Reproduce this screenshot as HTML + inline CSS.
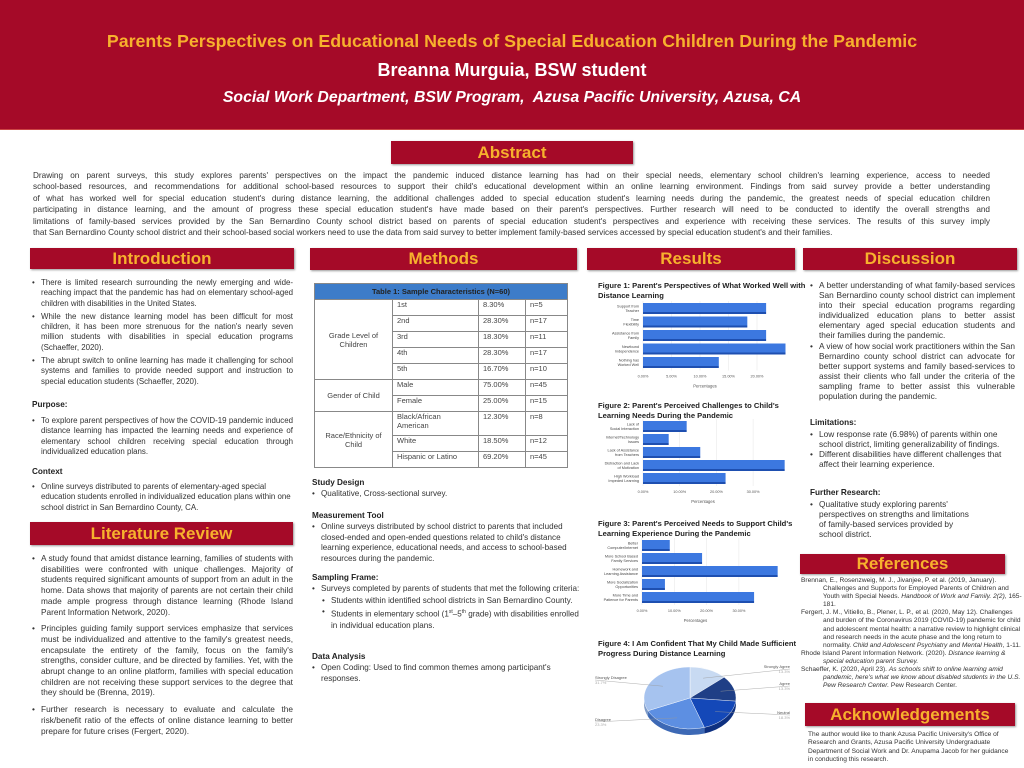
<!DOCTYPE html>
<html><head><meta charset="utf-8">
<style>
*{margin:0;padding:0;box-sizing:border-box}
body{width:1024px;height:768px;position:relative;background:#fff;font-family:"Liberation Sans",sans-serif;color:#222;overflow:hidden}
.abs{position:absolute}
.banner{position:absolute;background:#a50a28;color:#f7b12d;font-weight:bold;font-size:17px;text-align:center;box-shadow:1px 1px 2px #999}
.txt{position:absolute;font-size:7.9px;line-height:10.3px;text-align:justify;color:#333}
.txt ul{list-style:none}
.txt li{position:relative;padding-left:11px;margin-bottom:3px}
.txt li:before{content:"•";position:absolute;left:2px}
.h{font-weight:bold;font-size:8.2px;color:#222}
.m{font-size:8.1px;line-height:10.7px}
table{border-collapse:collapse;font-size:7.5px;color:#444}
td{border:1px solid #888;padding:0 4px;vertical-align:top}
.ln{display:block;text-align:justify;text-align-last:justify;white-space:nowrap}
</style></head><body>
<div class="abs" style="left:0;top:0;width:1024px;height:130px;background:#a50a28;border-bottom:1px solid #c44"></div>
<div class="abs" style="left:0;top:31px;width:1024px;text-align:center;color:#f7b12d;font-weight:bold;font-size:17.8px">Parents Perspectives on Educational Needs of Special Education Children During the Pandemic</div>
<div class="abs" style="left:0;top:60px;width:1024px;text-align:center;color:#fff;font-weight:bold;font-size:18px">Breanna Murguia, BSW student</div>
<div class="abs" style="left:0;top:89px;width:1024px;text-align:center;color:#fff;font-weight:bold;font-style:italic;font-size:15.8px">Social Work Department, BSW Program,&nbsp; Azusa Pacific University, Azusa, CA</div>

<div class="banner" style="left:391px;top:141px;width:242px;height:23px;line-height:23px">Abstract</div>
<div class="txt" style="left:33px;top:170px;width:957px;font-size:8.2px;line-height:11.4px">
<span class="ln">Drawing on parent surveys, this study explores parents' perspectives on the impact the pandemic induced distance learning has had on their special needs, elementary school children's learning experience, access to needed</span>
<span class="ln">school-based resources, and recommendations for additional school-based resources to support their child's educational development within an online learning environment. Findings from said survey provide a better understanding</span>
<span class="ln">of what has worked well for special education student's during distance learning, the additional challenges added to special education student's learning needs during the pandemic, the greatest needs of special education children</span>
<span class="ln">participating in distance learning, and the amount of progress these special education student's have made based on their parent's perspectives. Further research will need to be conducted to identify the overall strengths and</span>
<span class="ln">limitations of family-based services provided by the San Bernardino County school district based on parents of special education student's perspectives and experience with receiving these services. The results of this survey imply</span>
<span style="display:block;white-space:nowrap">that San Bernardino County school district and their school-based social workers need to use the data from said survey to better implement family-based services accessed by special education student's and their families.</span>
</div>

<div class="banner" style="left:30px;top:248px;width:264px;height:21px;line-height:21px">Introduction</div>
<div class="banner" style="left:310px;top:248px;width:267px;height:22px;line-height:22px">Methods</div>
<div class="banner" style="left:587px;top:248px;width:208px;height:22px;line-height:22px">Results</div>
<div class="banner" style="left:803px;top:248px;width:214px;height:22px;line-height:22px">Discussion</div>
<div class="banner" style="left:30px;top:522px;width:263px;height:23px;line-height:23px">Literature Review</div>
<div class="banner" style="left:800px;top:554px;width:205px;height:20px;line-height:20px">References</div>
<div class="banner" style="left:805px;top:703px;width:210px;height:23px;line-height:23px">Acknowledgements</div>

<div class="txt" style="left:30px;top:278px;width:263px">
<ul><li>There is limited research surrounding the newly emerging and wide-reaching impact that the pandemic has had on elementary school-aged children with disabilities in the United States.</li>
<li>While the new distance learning model has been difficult for most children, it has been more strenuous for the nation's nearly seven million students with disabilities in special education programs (Schaeffer, 2020).</li>
<li>The abrupt switch to online learning has made it challenging for school systems and families to provide needed support and instruction to special education students (Schaeffer, 2020).</li></ul>
</div>
<div class="txt h" style="left:32px;top:400px">Purpose:</div>
<div class="txt" style="left:30px;top:416px;width:263px"><ul><li>To explore parent perspectives of how the COVID-19 pandemic induced distance learning has impacted the learning needs and experience of elementary school children receiving special education through individualized education plans.</li></ul></div>
<div class="txt h" style="left:32px;top:467px">Context</div>
<div class="txt" style="left:30px;top:482px;width:263px;text-align:left"><ul><li>Online surveys distributed to parents of elementary-aged special education students enrolled in individualized education plans within one school district in San Bernardino County, CA.</li></ul></div>

<div class="txt" style="left:30px;top:553px;width:263px;font-size:8.3px;line-height:10.7px">
<ul><li style="margin-bottom:6px">A study found that amidst distance learning, families of students with disabilities were confronted with unique challenges. Majority of students required significant amounts of support from an adult in the home. Data shows that majority of parents are not certain their child made ample progress through distance learning (Rhode Island Parent Information Network, 2020).</li>
<li style="margin-bottom:6px">Principles guiding family support services emphasize that services must be individualized and attentive to the family's greatest needs, encapsulate the entirety of the family, focus on the family's strengths, consider culture, and be directed by families. Yet, with the abrupt change to an online platform, families with special education children are not receiving these support services to the degree that they should be (Brenna, 2019).</li>
<li>Further research is necessary to evaluate and calculate the risk/benefit ratio of the effects of online distance learning to better prepare for future crises (Fergert, 2020).</li></ul>
</div>

<table class="abs" style="left:314px;top:283px;width:254px">
<tr style="height:16px"><td colspan="4" style="background:#3d7cc9;color:#222;font-weight:bold;text-align:center;vertical-align:middle">Table 1: Sample Characteristics (N=60)</td></tr>
<tr style="height:16px"><td rowspan="5" style="width:78px;text-align:center;vertical-align:middle">Grade Level of Children</td><td style="width:86px">1st</td><td style="width:47px">8.30%</td><td>n=5</td></tr>
<tr style="height:16px"><td>2nd</td><td>28.30%</td><td>n=17</td></tr>
<tr style="height:16px"><td>3rd</td><td>18.30%</td><td>n=11</td></tr>
<tr style="height:16px"><td>4th</td><td>28.30%</td><td>n=17</td></tr>
<tr style="height:16px"><td>5th</td><td>16.70%</td><td>n=10</td></tr>
<tr style="height:16px"><td rowspan="2" style="text-align:center;vertical-align:middle">Gender of Child</td><td>Male</td><td>75.00%</td><td>n=45</td></tr>
<tr style="height:16px"><td>Female</td><td>25.00%</td><td>n=15</td></tr>
<tr style="height:24px"><td rowspan="3" style="text-align:center;vertical-align:middle">Race/Ethnicity of Child</td><td>Black/African American</td><td>12.30%</td><td>n=8</td></tr>
<tr style="height:16px"><td>White</td><td>18.50%</td><td>n=12</td></tr>
<tr style="height:16px"><td>Hispanic or Latino</td><td>69.20%</td><td>n=45</td></tr>
</table>

<div class="txt h" style="left:312px;top:478px">Study Design</div>
<div class="txt m" style="left:310px;top:489px;width:265px;text-align:left"><ul><li>Qualitative, Cross-sectional survey.</li></ul></div>
<div class="txt h" style="left:312px;top:511px">Measurement Tool</div>
<div class="txt m" style="left:310px;top:522px;width:268px;text-align:left"><ul><li>Online surveys distributed by school district to parents that included closed-ended and open-ended questions related to child's distance learning experience, educational needs, and access to school-based resources during the pandemic.</li></ul></div>
<div class="txt h" style="left:312px;top:573px">Sampling Frame:</div>
<div class="txt m" style="left:310px;top:584px;width:275px;text-align:left"><ul><li style="margin-bottom:1px">Surveys completed by parents of students that met the following criteria:</li>
<li style="margin-left:10px;margin-bottom:1px">Students within identified school districts in San Bernardino County.</li>
<li style="margin-left:10px">Students in elementary school (1<sup style="font-size:5px">st</sup>–5<sup style="font-size:5px">th</sup> grade) with disabilities enrolled in individual education plans.</li></ul></div>
<div class="txt h" style="left:312px;top:652px">Data Analysis</div>
<div class="txt m" style="left:310px;top:663px;width:250px;text-align:left"><ul><li>Open Coding: Used to find common themes among participant's responses.</li></ul></div>

<svg id="charts" class="abs" style="left:0;top:0" width="1024" height="768" font-family="Liberation Sans, sans-serif"></svg>

<div class="txt" style="left:808px;top:280px;width:207px;font-size:8.3px;line-height:10.1px">
<ul><li style="margin-bottom:0">A better understanding of what family-based services San Bernardino county school district can implement into their special education programs regarding individualized education plans to better assist elementary aged special education students and their families during the pandemic.</li>
<li>A view of how social work practitioners within the San Bernardino county school district can advocate for better support systems and family based-services to assist their clients who fall under the criteria of the sampling frame to better assist this vulnerable population during the pandemic.</li></ul></div>
<div class="txt h" style="left:810px;top:418px">Limitations:</div>
<div class="txt" style="left:808px;top:429px;width:195px;text-align:left;font-size:8.3px;line-height:10.1px"><ul><li style="margin-bottom:0">Low response rate (6.98%) of parents within one school district, limiting generalizability of findings.</li><li>Different disabilities have different challenges that affect their learning experience.</li></ul></div>
<div class="txt h" style="left:810px;top:488px">Further Research:</div>
<div class="txt" style="left:808px;top:499px;width:170px;text-align:left;font-size:8.3px;line-height:10.1px"><ul><li>Qualitative study exploring parents' perspectives on strengths and limitations of family-based services provided by school district.</li></ul></div>

<div class="txt" style="left:801px;top:577px;width:222px;font-size:6.6px;line-height:8.1px;text-align:left">
<div style="padding-left:22px;text-indent:-22px">Brennan, E., Rosenzweig, M. J., Jivanjee, P. et al. (2019, January). Challenges and Supports for Employed Parents of Children and Youth with Special Needs. <i>Handbook of Work and Family. 2(2),</i> 165-181.</div>
<div style="padding-left:22px;text-indent:-22px">Fergert, J. M., Vitiello, B., Plener, L. P., et al. (2020, May 12). Challenges and burden of the Coronavirus 2019 (COVID-19) pandemic for child and adolescent mental health: a narrative review to highlight clinical and research needs in the acute phase and the long return to normality. <i>Child and Adolescent Psychiatry and Mental Health</i>, 1-11.</div>
<div style="padding-left:22px;text-indent:-22px">Rhode Island Parent Information Network. (2020). <i>Distance learning &amp; special education parent Survey.</i></div>
<div style="padding-left:22px;text-indent:-22px">Schaeffer, K. (2020, April 23). <i>As schools shift to online learning amid pandemic, here's what we know about disabled students in the U.S. Pew Research Center.</i> Pew Research Center.</div>
</div>
<div class="txt" style="left:808px;top:731px;width:205px;font-size:6.6px;line-height:8.3px;text-align:left">The author would like to thank Azusa Pacific University's Office of Research and Grants, Azusa Pacific University Undergraduate Department of Social Work and Dr. Anupama Jacob for her guidance in conducting this research.</div>

<script>
// Figure 1
const fig1Categories = ["Support from Teacher","Time Flexibility","Assistance from Family","Newfound Independence","Nothing has Worked Well"];
const fig1Values = [21.6, 18.3, 21.6, 25.0, 13.3];
const fig1Ticks = [0, 5, 10, 15, 20];
// Figure 2
const fig2Categories = ["Lack of Social Interaction","Internet/Technology Issues","Lack of Assistance from Teachers","Distraction and Lack of Motivation","High Workload Impeded Learning"];
const fig2Values = [11.9, 7.0, 15.6, 38.6, 22.5];
const fig2Ticks = [0, 10, 20, 30];
// Figure 3
const fig3Categories = ["Better Computer/Internet","More School Based Family Services","Homework and Learning Assistance","More Socialization Opportunities","More Time and Patience for Parents"];
const fig3Values = [8.6, 18.6, 42.0, 7.1, 34.7];
const fig3Ticks = [0, 10, 20, 30];
// Figure 4
const fig4Labels = ["Strongly Agree","Agree","Neutral","Disagree","Strongly Disagree"];
const fig4Values = [13.3, 13.3, 18.3, 23.3, 31.7];

const svg = document.getElementById('charts');
const NS = 'http://www.w3.org/2000/svg';
function mk(tag, attrs, text){
  const e = document.createElementNS(NS, tag);
  for (const k in attrs) e.setAttribute(k, attrs[k]);
  if (text !== undefined) e.textContent = text;
  svg.appendChild(e);
  return e;
}
function title(x, y, lines, name){
  lines.forEach((l,i)=>{
    const t = mk('text',{x:x,y:y+i*10,'font-size':7.6,'font-weight':'bold',fill:'#222'},l);
    
    
  });
}
function barChart(cfg){
  const xs = v => cfg.x0 + v*cfg.pxPer;
  cfg.ticks.forEach(tk=>{
    const gl = mk('line',{x1:xs(tk),x2:xs(tk),y1:cfg.top-2,y2:cfg.top+cfg.rowH*cfg.cats.length,stroke:'#e4e4e4','stroke-width':0.5});
    
    
    const tl = mk('text',{x:xs(tk),y:cfg.top+cfg.rowH*cfg.cats.length+7,'font-size':3.8,fill:'#555','text-anchor':'middle'},tk.toFixed(2)+'%');
    
    
  });
  const at = mk('text',{x:xs(cfg.ticks[cfg.ticks.length-1]/2)+5,y:cfg.top+cfg.rowH*cfg.cats.length+17,'font-size':4.2,fill:'#555','text-anchor':'middle'},'Percentages');
  
  
  cfg.cats.forEach((c,i)=>{
    const y = cfg.top + i*cfg.rowH;
    const w = xs(cfg.vals[i]) - cfg.x0;
    const sh = mk('rect',{x:cfg.x0,y:y+cfg.barH-2,width:w,height:2,fill:'#1e4fb0'});
    
    
    const b = mk('rect',{x:cfg.x0,y:y,width:w,height:cfg.barH-2,fill:'#3c78e0'});
    
    
    const words = c.split(' ');
    const half = Math.ceil(words.length/2);
    const l1 = words.slice(0,half).join(' '), l2 = words.slice(half).join(' ');
    const a = mk('text',{x:cfg.x0-4,y:y+cfg.barH/2-1,'font-size':3.8,fill:'#444','text-anchor':'end'},l1);
    
    
    const b2 = mk('text',{x:cfg.x0-4,y:y+cfg.barH/2+3.5,'font-size':3.8,fill:'#444','text-anchor':'end'},l2);
    
    
  });
}
title(598, 288, ["Figure 1: Parent's Perspectives of What Worked Well with","Distance Learning"], 'figure-1-title');
barChart({cats:fig1Categories, vals:fig1Values, ticks:fig1Ticks, x0:643, pxPer:5.7, top:303, rowH:13.5, barH:11});
title(598, 408, ["Figure 2: Parent's Perceived Challenges to Child's","Learning Needs During the Pandemic"], 'figure-2-title');
barChart({cats:fig2Categories, vals:fig2Values, ticks:fig2Ticks, x0:643, pxPer:3.67, top:421, rowH:13, barH:11});
title(598, 526, ["Figure 3: Parent's Perceived Needs to Support Child's","Learning Experience During the Pandemic"], 'figure-3-title');
barChart({cats:fig3Categories, vals:fig3Values, ticks:fig3Ticks, x0:642, pxPer:3.23, top:540, rowH:13, barH:11});
title(598, 646, ["Figure 4: I Am Confident That My Child Made Sufficient","Progress During Distance Learning"], 'figure-4-title');

// pie
const pieColors = ['#c8daf2','#1f3f86','#1448b8','#5d8fe2','#a6c3ef'];
const sideColors = ['#9fb4d4','#142a5c','#0e3080','#3d69b5','#7f9cc9'];
const cx=690, cy=698, rx=46, ry=31, depth=6;
const total = fig4Values.reduce((a,b)=>a+b,0);
function pt(a,dy){return [cx+rx*Math.cos(a), cy+ry*Math.sin(a)+(dy||0)];}
let ang=-Math.PI/2;
const slices=[];
fig4Values.forEach((v,i)=>{const a0=ang, a1=ang+v/total*2*Math.PI; slices.push([a0,a1]); ang=a1;});
slices.forEach((s,i)=>{
  const a0=Math.max(s[0],0), a1=Math.min(s[1],Math.PI);
  if(a1<=a0) return;
  const p0=pt(a0),p1=pt(a1),q1=pt(a1,depth),q0=pt(a0,depth);
  const d=`M${p0} A${rx},${ry} 0 0 1 ${p1} L${q1} A${rx},${ry} 0 0 0 ${q0} Z`;
  const w=mk('path',{d:d,fill:sideColors[i]});
  
  
});
slices.forEach((s,i)=>{
  const p0=pt(s[0]),p1=pt(s[1]);
  const large=(s[1]-s[0])>Math.PI?1:0;
  const sl=mk('path',{d:`M${cx},${cy} L${p0} A${rx},${ry} 0 ${large} 1 ${p1} Z`,fill:pieColors[i],stroke:'#fff','stroke-width':0.4});
  
  
});
const labelPos=[[790,668,'end'],[790,685,'end'],[790,714,'end'],[595,721,'start'],[595,679,'start']];
fig4Labels.forEach((l,i)=>{
  const [x,y,anc]=labelPos[i];
  const mid=(slices[i][0]+slices[i][1])/2;
  const p=pt(mid);
  const ln=mk('line',{x1:cx+(p[0]-cx)*0.7,y1:cy+(p[1]-cy)*0.7,x2:x,y2:y+1,stroke:'#999','stroke-width':0.4});
  
  
  const t=mk('text',{x:x,y:y,'font-size':4,fill:'#555','text-anchor':anc},l);
  
  
  const t2=mk('text',{x:x,y:y+5,'font-size':4,fill:'#aaa','text-anchor':anc},fig4Values[i].toFixed(1)+'%');
  
  
});
</script>
</body></html>
